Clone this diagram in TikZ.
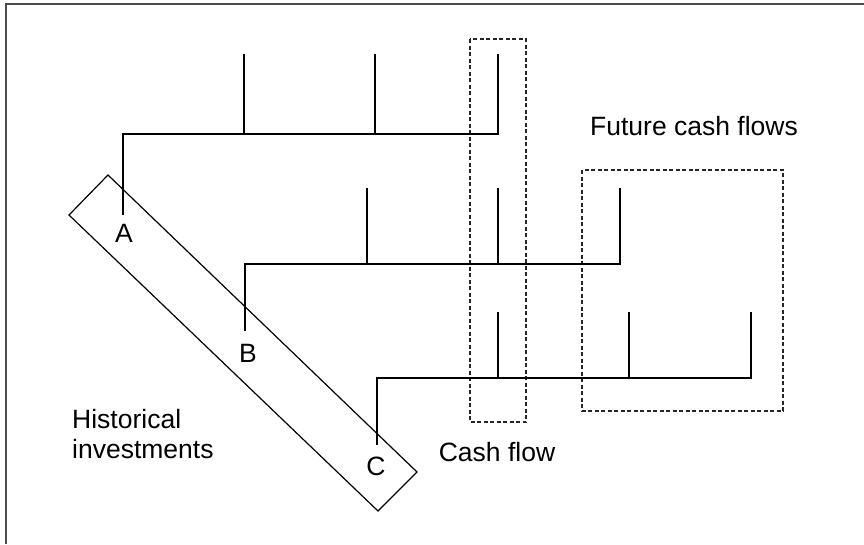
\documentclass[tikz,border=0pt]{standalone}
\usepackage{fontspec}
\setmainfont{Liberation Sans}
\begin{document}
\begin{tikzpicture}[x=1pt,y=-1pt,
  ln/.style={line width=1.2pt,black},
  dbox/.style={line width=1.1pt,black!85,dash pattern=on 4pt off 2.5pt},
  frame/.style={line width=2pt,black!70},
  lbl/.style={inner sep=0pt,font=\fontsize{26.5}{30}\selectfont}]
\useasboundingbox (0,0) rectangle (864,544);
% frame (top and left edges)
\draw[frame] (6,544) -- (6,4) -- (864,4);
% dashed boxes
\draw[dbox] (470,39) rectangle (526,422);
\draw[dbox] (582,170) rectangle (783,411);
% historical investments band
\coordinate (r1) at (108,175);
\coordinate (r2) at (417,472);
\coordinate (r3) at (378,511);
\coordinate (r4) at (69,215);
\draw[ln] (r1) -- (r2) -- (r3) -- (r4) -- cycle;
% timeline A
\coordinate (a0) at (123,215);
\coordinate (a1) at (123,134);
\coordinate (a2) at (244,134);
\coordinate (a3) at (375,134);
\coordinate (a4) at (498,134);
\draw[ln] (a0) -- (a1) -- (a4) -- (498,54);
\draw[ln] (a2) -- (244,54);
\draw[ln] (a3) -- (375,54);
% timeline B
\coordinate (b0) at (245,331);
\coordinate (b1) at (245,264);
\coordinate (b2) at (367,264);
\coordinate (b3) at (498,264);
\coordinate (b4) at (620,264);
\draw[ln] (b0) -- (b1) -- (b4) -- (620,188);
\draw[ln] (b2) -- (367,188);
\draw[ln] (b3) -- (498,188);
% timeline C
\coordinate (c0) at (377,445);
\coordinate (c1) at (377,378);
\coordinate (c2) at (498,378);
\coordinate (c3) at (629,378);
\coordinate (c4) at (751,378);
\draw[ln] (c0) -- (c1) -- (c4) -- (751,312);
\draw[ln] (c2) -- (498,312);
\draw[ln] (c3) -- (629,312);
% labels
\node[lbl,anchor=base] (A) at (124,242) {A};
\node[lbl,anchor=base] (B) at (248,362) {B};
\node[lbl,anchor=base] (C) at (376,475) {C};
\node[lbl,anchor=base] (cf) at (497,461) {Cash flow};
\node[lbl,anchor=base] (fcf) at (694,135) {Future cash flows};
\node[lbl,anchor=base west] (hi1) at (72,428) {Historical};
\node[lbl,anchor=base west] (hi2) at (72,458) {investments};
\end{tikzpicture}
\end{document}
